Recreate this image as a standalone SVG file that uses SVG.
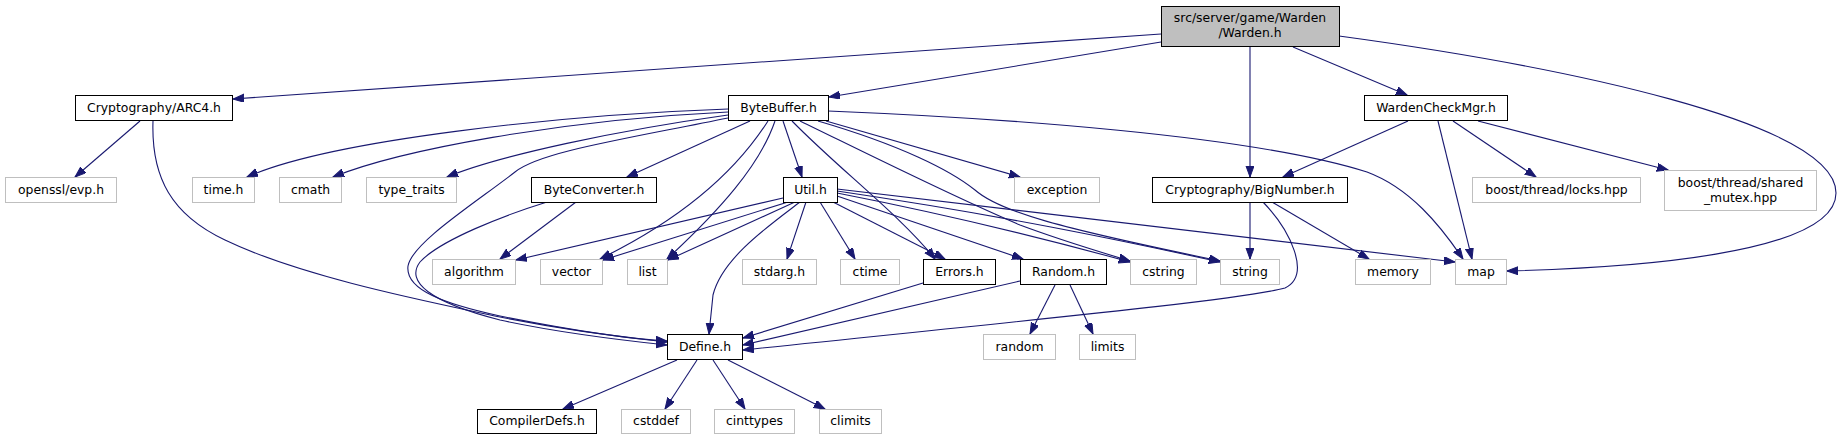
<svg xmlns="http://www.w3.org/2000/svg" width="1843" height="440" viewBox="0 0 1843 440">
<style>
.n rect{fill:#fff;stroke:#000;stroke-width:1}
.x rect{fill:#fff;stroke:#bfbfbf;stroke-width:1}
.r rect{fill:#bfbfbf;stroke:#000;stroke-width:1}
text{font-family:"DejaVu Sans","Liberation Sans",sans-serif;font-size:12.4px;fill:#000;text-anchor:middle}
#edges path{fill:none;stroke:#191970;stroke-width:1.1;marker-end:url(#a)}
</style>
<defs>
<marker id="a" markerUnits="userSpaceOnUse" markerWidth="12" markerHeight="10" refX="11" refY="4" orient="auto">
<path d="M0,0 L11,4 L0,8 z" fill="#191970" stroke="#191970" stroke-width="1"/>
</marker>
</defs>
<rect width="1843" height="440" fill="#fff"/>
<g id="edges">
<path d="M1161,34 L233,99"/>
<path d="M1161,42 L829,97"/>
<path d="M1250,47 L1250,177"/>
<path d="M1293,47 L1407,95"/>
<path d="M1339,36 C1560,66 1836,122 1836,193 C1836,255 1625,268 1507,271"/>
<path d="M140,121 L75,177"/>
<path d="M153,121 C151,178 172,215 225,240 C300,276 420,300 500,317 C565,330 620,337 667,342"/>
<path d="M728,109 C560,115 330,140 247,177"/>
<path d="M728,112 C560,120 400,150 333,177"/>
<path d="M728,115 C620,130 500,155 447,177"/>
<path d="M728,118 C620,140 540,152 515,172 C475,203 412,243 408,266 C405,290 445,304 500,316 C570,330 620,338 667,341"/>
<path d="M750,121 L627,177"/>
<path d="M783,121 L802,177"/>
<path d="M768,121 C740,165 690,215 600,259"/>
<path d="M775,121 C760,165 720,210 667,259"/>
<path d="M792,121 C840,170 900,215 935,259"/>
<path d="M800,121 C880,160 960,200 1020,225 C1060,240 1100,252 1130,261"/>
<path d="M818,121 C900,145 950,170 975,190 C1000,212 1060,228 1220,261"/>
<path d="M826,121 L1020,177"/>
<path d="M828,111 C1000,118 1250,135 1367,172 C1410,188 1440,225 1463,259"/>
<path d="M576,202 L500,259"/>
<path d="M547,202 C505,215 440,240 420,262 C405,282 430,302 500,320 C560,333 620,340 667,345"/>
<path d="M783,198 L516,260"/>
<path d="M788,202 L603,260"/>
<path d="M795,202 L668,260"/>
<path d="M800,202 C770,225 722,258 713,295 L709,334"/>
<path d="M806,202 L787,259"/>
<path d="M820,202 L855,259"/>
<path d="M833,202 L945,259"/>
<path d="M837,196 L1023,259"/>
<path d="M837,193 C950,215 1050,240 1130,262"/>
<path d="M837,191 C1000,215 1120,240 1220,262"/>
<path d="M837,189 L1455,262"/>
<path d="M923,283 L743,338"/>
<path d="M1020,281 L743,345"/>
<path d="M1263,202 C1290,230 1312,275 1285,288 C1240,300 1050,318 743,350"/>
<path d="M1250,202 L1250,259"/>
<path d="M1272,202 L1369,259"/>
<path d="M1055,285 L1030,334"/>
<path d="M1070,285 L1093,334"/>
<path d="M677,360 L563,409"/>
<path d="M697,360 L665,409"/>
<path d="M713,360 L745,409"/>
<path d="M728,360 L825,409"/>
<path d="M1408,121 L1283,177"/>
<path d="M1438,121 L1472,259"/>
<path d="M1453,121 L1536,177"/>
<path d="M1478,121 L1668,170"/>
</g>
<g id="root" class="r"><rect x="1161.5" y="6.5" width="178" height="40"/><text x="1250" y="21.5">src/server/game/Warden</text><text x="1250" y="37">/Warden.h</text></g>
<g id="arc4" class="n"><rect x="75.5" y="95.5" width="157" height="25"/><text x="154" y="112.3">Cryptography/ARC4.h</text></g>
<g id="bytebuffer" class="n"><rect x="728.5" y="95.5" width="100" height="25"/><text x="778.5" y="112.3">ByteBuffer.h</text></g>
<g id="wardencheckmgr" class="n"><rect x="1364.5" y="95.5" width="143" height="25"/><text x="1436" y="112.3">WardenCheckMgr.h</text></g>
<g id="openssl" class="x"><rect x="5.5" y="177.5" width="111" height="25"/><text x="61" y="193.8">openssl/evp.h</text></g>
<g id="timeh" class="x"><rect x="192.5" y="177.5" width="62" height="25"/><text x="223.5" y="193.8">time.h</text></g>
<g id="cmath" class="x"><rect x="279.5" y="177.5" width="62" height="25"/><text x="310.5" y="193.8">cmath</text></g>
<g id="typetraits" class="x"><rect x="366.5" y="177.5" width="90" height="25"/><text x="411.5" y="193.8">type_traits</text></g>
<g id="byteconverter" class="n"><rect x="531.5" y="177.5" width="125" height="25"/><text x="594" y="193.8">ByteConverter.h</text></g>
<g id="util" class="n"><rect x="783.5" y="177.5" width="54" height="25"/><text x="810.5" y="193.8">Util.h</text></g>
<g id="exception" class="x"><rect x="1014.5" y="177.5" width="85" height="25"/><text x="1057" y="193.8">exception</text></g>
<g id="bignumber" class="n"><rect x="1152.5" y="177.5" width="195" height="25"/><text x="1250" y="193.8">Cryptography/BigNumber.h</text></g>
<g id="locks" class="x"><rect x="1472.5" y="177.5" width="168" height="25"/><text x="1556.5" y="193.8">boost/thread/locks.hpp</text></g>
<g id="sharedmutex" class="x"><rect x="1664.5" y="170.5" width="152" height="40"/><text x="1740.5" y="186.5">boost/thread/shared</text><text x="1740.5" y="201.5">_mutex.hpp</text></g>
<g id="algorithm" class="x"><rect x="432.5" y="259.5" width="83" height="25"/><text x="474" y="275.8">algorithm</text></g>
<g id="vector" class="x"><rect x="540.5" y="259.5" width="62" height="25"/><text x="571.5" y="275.8">vector</text></g>
<g id="list" class="x"><rect x="627.5" y="259.5" width="40" height="25"/><text x="647.5" y="275.8">list</text></g>
<g id="stdarg" class="x"><rect x="742.5" y="259.5" width="74" height="25"/><text x="779.5" y="275.8">stdarg.h</text></g>
<g id="ctime" class="x"><rect x="840.5" y="259.5" width="59" height="25"/><text x="870" y="275.8">ctime</text></g>
<g id="errors" class="n"><rect x="923.5" y="259.5" width="72" height="25"/><text x="959.5" y="275.8">Errors.h</text></g>
<g id="randomh" class="n"><rect x="1020.5" y="259.5" width="86" height="25"/><text x="1063.5" y="275.8">Random.h</text></g>
<g id="cstring" class="x"><rect x="1130.5" y="259.5" width="66" height="25"/><text x="1163.5" y="275.8">cstring</text></g>
<g id="string" class="x"><rect x="1220.5" y="259.5" width="59" height="25"/><text x="1250" y="275.8">string</text></g>
<g id="memory" class="x"><rect x="1355.5" y="259.5" width="75" height="25"/><text x="1393" y="275.8">memory</text></g>
<g id="map" class="x"><rect x="1455.5" y="259.5" width="51" height="25"/><text x="1481" y="275.8">map</text></g>
<g id="define" class="n"><rect x="667.5" y="334.5" width="75" height="25"/><text x="705" y="350.8">Define.h</text></g>
<g id="random" class="x"><rect x="983.5" y="334.5" width="72" height="25"/><text x="1019.5" y="350.8">random</text></g>
<g id="limits" class="x"><rect x="1079.5" y="334.5" width="56" height="25"/><text x="1107.5" y="350.8">limits</text></g>
<g id="compilerdefs" class="n"><rect x="477.5" y="409.5" width="119" height="24"/><text x="537" y="425.3">CompilerDefs.h</text></g>
<g id="cstddef" class="x"><rect x="621.5" y="409.5" width="69" height="24"/><text x="656" y="425.3">cstddef</text></g>
<g id="cinttypes" class="x"><rect x="714.5" y="409.5" width="80" height="24"/><text x="754.5" y="425.3">cinttypes</text></g>
<g id="climits" class="x"><rect x="819.5" y="409.5" width="62" height="24"/><text x="850.5" y="425.3">climits</text></g>
</svg>
